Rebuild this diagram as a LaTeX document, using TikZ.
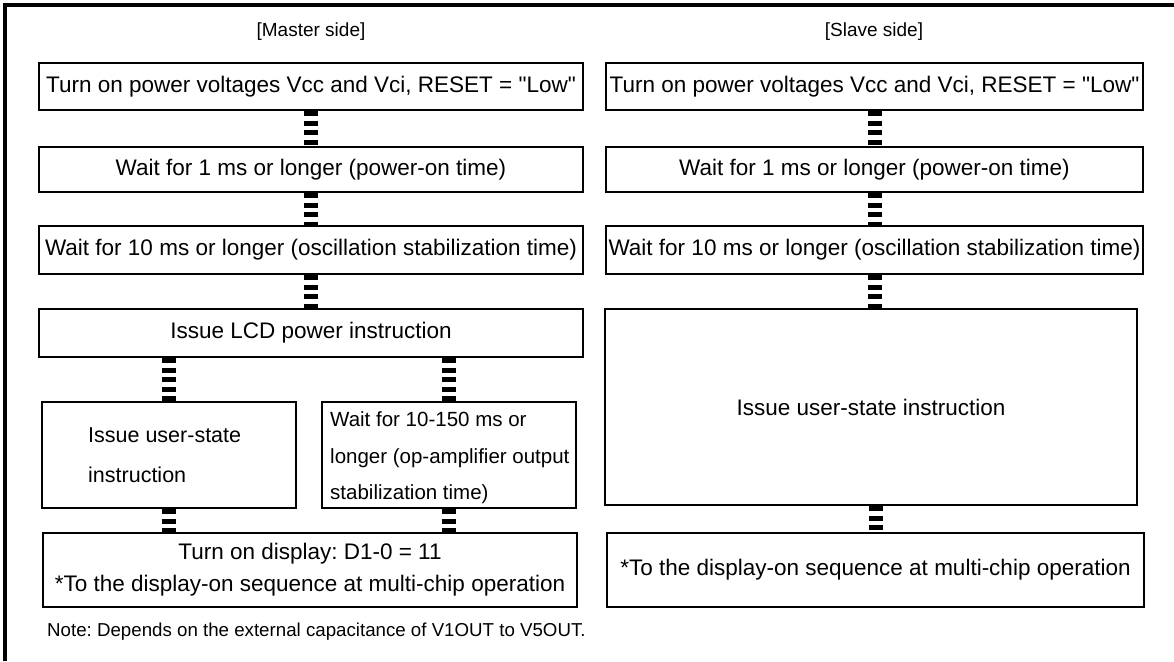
\documentclass[tikz,border=0pt]{standalone}
\usepackage{fontspec}
\setmainfont{Liberation Sans}[Ligatures=TeXOff]
\frenchspacing
\begin{document}
\begin{tikzpicture}[x=1pt,y=-1pt,
  every node/.style={font=\fontsize{22.5}{27}\selectfont},
  small/.style={font=\fontsize{19}{23}\selectfont},
  box/.style={draw, line width=2pt, inner sep=0pt, align=center},
  conn/.style={line width=14pt, dash pattern=on 5pt off 4.5pt},
  lbl/.style={inner sep=0pt, anchor=west, align=left}]
\useasboundingbox (0,0) rectangle (1174,661);
\draw[line width=3.5pt] (5,661) -- (5,5) -- (1174,5);
% headers
\node[small] (hm) at (311,32) {[Master side]};
\node[small] (hs) at (874,32) {[Slave side]};
% master column
\node[box, minimum width=544pt, minimum height=47pt] (m1) at (311,86.5) {Turn on power voltages Vcc and Vci, RESET = "Low"};
\node[box, minimum width=544pt, minimum height=45pt] (m2) at (311,169.5) {Wait for 1 ms or longer (power-on time)};
\node[box, minimum width=544pt, minimum height=48pt] (m3) at (311,250) {Wait for 10 ms or longer (oscillation stabilization time)};
\node[box, minimum width=544pt, minimum height=48pt] (m4) at (311,333) {Issue LCD power instruction};
\node[box, minimum width=254pt, minimum height=106pt] (m5a) at (169,455) {};
\node[box, minimum width=254pt, minimum height=106pt] (m5b) at (449,455) {};
\node[lbl, font=\fontsize{21.5}{26}\selectfont] (t5a) at (88,455) {Issue user-state\\[14pt]instruction};
\node[lbl, font=\fontsize{20.5}{25}\selectfont] (t5b) at (330,458) {Wait for 10-150 ms or\\[12pt]longer (op-amplifier output\\[11pt]stabilization time)};
\node[box, minimum width=534pt, minimum height=74pt] (m6) at (310,570) {Turn on display: D1-0 = 11\\[5pt]*To the display-on sequence at multi-chip operation};
% slave column
\node[box, minimum width=537pt, minimum height=47pt] (s1) at (874.5,86.5) {Turn on power voltages Vcc and Vci, RESET = "Low"};
\node[box, minimum width=537pt, minimum height=45pt] (s2) at (874.5,169.5) {Wait for 1 ms or longer (power-on time)};
\node[box, minimum width=537pt, minimum height=48pt] (s3) at (874.5,250) {Wait for 10 ms or longer (oscillation stabilization time)};
\node[box, minimum width=532pt, minimum height=196pt] (s4) at (871,407) {Issue user-state instruction};
\node[box, minimum width=537pt, minimum height=74pt] (s5) at (875.5,570) {*To the display-on sequence at multi-chip operation};
% connectors
\draw[conn] (m1.south) -- (m2.north);
\draw[conn] (m2.south) -- (m3.north);
\draw[conn] (m3.south) -- (m4.north);
\draw[conn] (m5a.north |- m4.south) -- (m5a.north);
\draw[conn] (m5b.north |- m4.south) -- (m5b.north);
\draw[conn] (m5a.south) -- (m5a.south |- m6.north);
\draw[conn] (m5b.south) -- (m5b.south |- m6.north);
\draw[conn] (s1.south) -- (s2.north);
\draw[conn] (s2.south) -- (s3.north);
\draw[conn] (s3.south) -- (s3.south |- s4.north);
\draw[conn] (s4.south -| s5.north) -- (s5.north);
% note
\node[lbl, font=\fontsize{18.7}{23}\selectfont] (note) at (47,632) {Note: Depends on the external capacitance of V1OUT to V5OUT.};
\end{tikzpicture}
\end{document}
